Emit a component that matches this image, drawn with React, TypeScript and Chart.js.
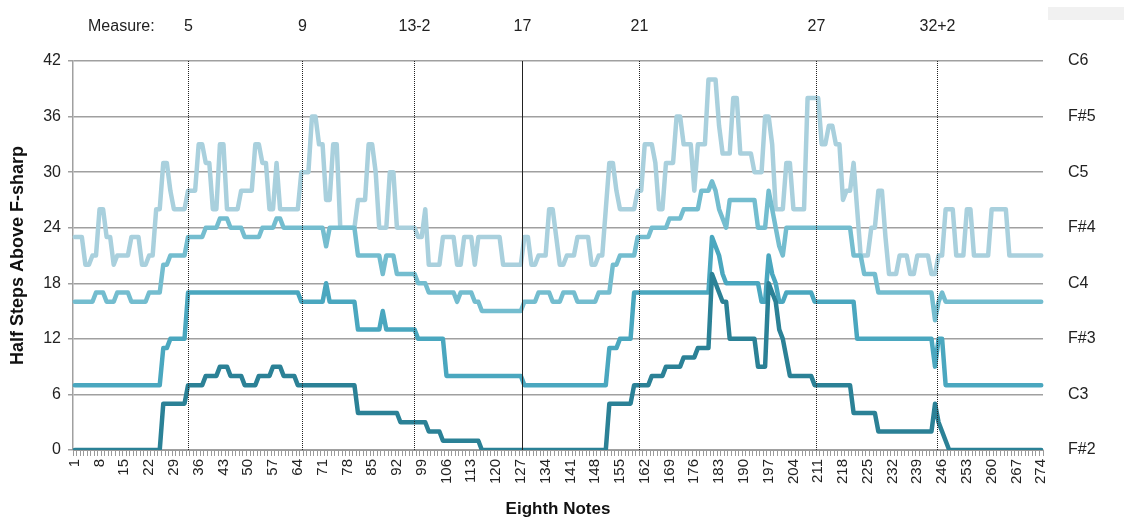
import React, { useEffect, useRef } from 'react';
import { Chart, registerables } from 'chart.js';

Chart.register(...registerables);

// x categories: eighth-note index 1..274
const eighthNotes: string[] = Array.from({ length: 274 }, (_, i) => String(i + 1));
const xTickLabels = ['1','8','15','22','29','36','43','50','57','64','71','78','85','92','99','106','113','120','127','134','141','148','155','162','169','176','183','190','197','204','211','218','225','232','239','246','253','260','267','274'];
const yTickValues = [0, 6, 12, 18, 24, 30, 36, 42];
const noteNames = ['F#2', 'C3', 'F#3', 'C4', 'F#4', 'C5', 'F#5', 'C6'];
const measureLabels = ['5', '9', '13-2', '17', '21', '27', '32+2'];
const measureAt = [32.9, 65.2, 96.8, 127.2, 160.4, 210.5, 244.5];
const measureSolid = [false, false, false, true, false, false, false];

const bass = [
  0,0,0,0,0,0,0,0,0,0,
  0,0,0,0,0,0,0,0,0,0,
  0,0,0,0,0,5,5,5,5,5,
  5,5,7,7,7,7,7,8,8,8,
  8,9,9,9,8,8,8,8,7,7,
  7,7,8,8,8,8,9,9,9,8,
  8,8,8,7,7,7,7,7,7,7,
  7,7,7,7,7,7,7,7,7,7,
  4,4,4,4,4,4,4,4,4,4,
  4,4,3,3,3,3,3,3,3,3,
  2,2,2,2,1,1,1,1,1,1,
  1,1,1,1,1,0,0,0,0,0,
  0,0,0,0,0,0,0,0,0,0,
  0,0,0,0,0,0,0,0,0,0,
  0,0,0,0,0,0,0,0,0,0,
  0,5,5,5,5,5,5,5,7,7,
  7,7,7,8,8,8,8,9,9,9,
  9,9,10,10,10,10,11,11,11,11,
  19,18,17,16,16,12,12,12,12,12,
  12,12,12,9,9,9,18,17,16,13,
  12,10,8,8,8,8,8,8,8,7,
  7,7,7,7,7,7,7,7,7,7,
  4,4,4,4,4,4,4,2,2,2,
  2,2,2,2,2,2,2,2,2,2,
  2,2,2,5,3,2,1,0,0,0,
  0,0,0,0,0,0,0,0,0,0,
  0,0,0,0,0,0,0,0,0,0,
  0,0,0,0,
];

const tenor = [
  7,7,7,7,7,7,7,7,7,7,
  7,7,7,7,7,7,7,7,7,7,
  7,7,7,7,7,11,11,12,12,12,
  12,12,17,17,17,17,17,17,17,17,
  17,17,17,17,17,17,17,17,17,17,
  17,17,17,17,17,17,17,17,17,17,
  17,17,17,17,16,16,16,16,16,16,
  16,18,16,16,16,16,16,16,16,16,
  13,13,13,13,13,13,13,15,13,13,
  13,13,13,13,13,13,13,12,12,12,
  12,12,12,12,12,8,8,8,8,8,
  8,8,8,8,8,8,8,8,8,8,
  8,8,8,8,8,8,8,7,7,7,
  7,7,7,7,7,7,7,7,7,7,
  7,7,7,7,7,7,7,7,7,7,
  7,11,11,11,12,12,12,12,17,17,
  17,17,17,17,17,17,17,17,17,17,
  17,17,17,17,17,17,17,17,17,17,
  23,22,21,19,18,18,18,18,18,18,
  18,18,18,18,16,16,21,19,18,16,
  16,17,17,17,17,17,17,17,17,16,
  16,16,16,16,16,16,16,16,16,16,
  16,12,12,12,12,12,12,12,12,12,
  12,12,12,12,12,12,12,12,12,12,
  12,12,12,9,12,12,7,7,7,7,
  7,7,7,7,7,7,7,7,7,7,
  7,7,7,7,7,7,7,7,7,7,
  7,7,7,7,
];

const alto = [
  16,16,16,16,16,16,17,17,17,16,
  16,16,17,17,17,17,16,16,16,16,
  16,17,17,17,17,20,20,21,21,21,
  21,21,23,23,23,23,23,24,24,24,
  24,25,25,25,24,24,24,24,23,23,
  23,23,23,24,24,24,24,25,25,24,
  24,24,24,24,24,24,24,24,24,24,
  24,22,24,24,24,24,24,24,24,24,
  21,21,21,21,21,21,21,19,21,21,
  21,19,19,19,19,19,19,18,18,18,
  17,17,17,17,17,17,17,17,16,17,
  17,17,17,16,16,15,15,15,15,15,
  15,15,15,15,15,15,15,16,16,16,
  16,17,17,17,17,16,16,16,17,17,
  17,17,16,16,16,16,16,16,17,17,
  17,17,20,20,21,21,21,21,21,23,
  23,23,23,24,24,24,24,24,25,25,
  25,25,26,26,26,26,26,28,28,28,
  29,28,26,25,24,27,27,27,27,27,
  27,27,27,24,24,24,28,26,24,22,
  21,24,24,24,24,24,24,24,24,24,
  24,24,24,24,24,24,24,24,24,24,
  21,21,21,19,19,19,19,17,17,17,
  17,17,17,17,17,17,17,17,17,17,
  17,17,17,14,16,17,16,16,16,16,
  16,16,16,16,16,16,16,16,16,16,
  16,16,16,16,16,16,16,16,16,16,
  16,16,16,16,
];

const soprano = [
  23,23,23,20,20,21,21,26,26,23,
  23,20,21,21,21,21,23,23,23,20,
  20,21,21,26,26,31,31,28,26,26,
  26,26,28,28,28,33,33,31,31,26,
  26,33,33,26,26,26,26,28,28,28,
  28,33,33,31,31,26,26,31,26,26,
  26,26,26,26,30,30,30,36,36,33,
  33,27,27,33,33,24,24,24,24,24,
  27,27,27,33,33,30,24,24,24,30,
  30,24,24,24,24,24,24,23,23,26,
  20,20,20,20,23,23,23,23,20,20,
  23,23,23,20,23,23,23,23,23,23,
  23,20,20,20,20,20,20,23,23,20,
  20,21,21,21,26,26,23,20,20,21,
  21,21,23,23,23,23,20,20,21,21,
  26,31,31,28,26,26,26,26,26,28,
  28,33,33,33,31,26,26,31,31,31,
  36,36,33,33,33,28,33,33,33,40,
  40,40,35,32,32,32,38,38,32,32,
  32,32,30,30,30,36,36,33,26,26,
  26,31,31,26,26,26,26,38,38,38,
  38,33,33,35,35,33,33,27,28,28,
  31,26,21,21,21,24,24,28,28,23,
  19,19,19,21,21,21,19,19,21,21,
  21,21,19,19,21,21,26,26,26,21,
  21,21,26,26,21,21,21,21,21,26,
  26,26,26,26,21,21,21,21,21,21,
  21,21,21,21,
];

const FONT = '"Liberation Sans", Arial, sans-serif';

const measurePlugin = {
  id: 'measureMarks',
  beforeDraw(chart: any) {
    const { ctx, width } = chart;
    ctx.save();
    ctx.fillStyle = '#f1f1f1';
    ctx.fillRect(width - 76, 7, 76, 13);
    ctx.restore();
  },
  afterDatasetsDraw(chart: any) {
    const { ctx, chartArea, scales } = chart;
    const x = scales.x;
    ctx.save();
    ctx.font = `16px ${FONT}`;
    ctx.fillStyle = '#222';
    ctx.textBaseline = 'middle';
    measureAt.forEach((m, i) => {
      const px = Math.round(x.getPixelForValue(m - 1)) + 0.5;
      ctx.beginPath();
      ctx.lineWidth = 1;
      if (measureSolid[i]) {
        ctx.setLineDash([]);
        ctx.strokeStyle = '#222';
      } else {
        ctx.setLineDash([1, 1]);
        ctx.strokeStyle = '#222';
      }
      ctx.moveTo(px, chartArea.top);
      ctx.lineTo(px, chartArea.bottom);
      ctx.stroke();
      ctx.textAlign = 'center';
      ctx.fillText(measureLabels[i], px, 27);
    });
    ctx.setLineDash([]);
    ctx.textAlign = 'left';
    ctx.fillText('Measure:', 88, 27);
    ctx.restore();
  },
};

export default function App() {
  const ref = useRef<HTMLCanvasElement | null>(null);
  useEffect(() => {
    if (!ref.current) return;
    const chart = new Chart(ref.current, {
      type: 'line',
      data: {
        labels: eighthNotes,
        datasets: [
          { label: 'Bass', data: bass, borderColor: '#2b8196', yAxisID: 'y' },
          { label: 'Tenor', data: tenor, borderColor: '#4aa7bf', yAxisID: 'y' },
          { label: 'Alto', data: alto, borderColor: '#74bdcf', yAxisID: 'y' },
          { label: 'Soprano', data: soprano, borderColor: '#a9d0dd', yAxisID: 'y' },
        ].map((d) => ({ ...d, borderWidth: 4.5, pointRadius: 0, tension: 0, fill: false, borderJoinStyle: 'round' as const, borderCapStyle: 'round' as const })),
      },
      options: {
        responsive: false,
        animation: false,
        layout: { padding: { top: 61, left: 0, right: 0, bottom: 0 } },
        plugins: { legend: { display: false }, tooltip: { enabled: false } },
        scales: {
          x: {
            type: 'category',
            offset: true,
            grid: { drawOnChartArea: false, color: '#9a9a9a', tickLength: 6, offset: true },
            border: { display: true, color: '#9a9a9a' },
            ticks: {
              autoSkip: false,
              minRotation: 90,
              maxRotation: 90,
              padding: 3,
              color: '#222',
              font: { family: FONT, size: 15 },
              callback: (_v: any, i: number) => (xTickLabels.includes(eighthNotes[i]) ? eighthNotes[i] : ''),
            },
            title: { display: true, text: 'Eighth Notes', color: '#111', font: { family: FONT, size: 17, weight: 'bold' }, padding: { top: 0, bottom: 4 } },
            afterFit: (s: any) => { s.height = 74; },
          },
          y: {
            position: 'left',
            min: 0,
            max: 42,
            afterBuildTicks: (s: any) => { s.ticks = yTickValues.map((v) => ({ value: v })); },
            grid: { color: '#a0a0a0', lineWidth: 1.5, tickLength: 5 },
            border: { display: true, color: '#a0a0a0', width: 1.5 },
            ticks: { padding: 7, color: '#222', font: { family: FONT, size: 16 } },
            title: { display: true, text: 'Half Steps Above F-sharp', color: '#111', font: { family: FONT, size: 18, weight: 'bold' }, padding: { top: 7, bottom: 0 } },
            afterFit: (s: any) => { s.width = 73; },
          },
          yNotes: {
            position: 'right',
            min: 0,
            max: 42,
            afterBuildTicks: (s: any) => { s.ticks = yTickValues.map((v) => ({ value: v })); },
            grid: { display: false, drawTicks: false, drawOnChartArea: false },
            border: { display: false },
            ticks: {
              padding: 25,
              color: '#222',
              font: { family: FONT, size: 16 },
              callback: (v: any) => noteNames[yTickValues.indexOf(Number(v))] ?? '',
            },
            afterFit: (s: any) => { s.width = 81; },
          },
        },
      },
      plugins: [measurePlugin],
    });
    return () => chart.destroy();
  }, []);
  return (
    <div style={{ position: 'absolute', left: 0, top: 0, width: 1124, height: 524, background: '#fff' }}>
      <canvas ref={ref} width={1124} height={524} style={{ display: 'block' }} />
    </div>
  );
}
